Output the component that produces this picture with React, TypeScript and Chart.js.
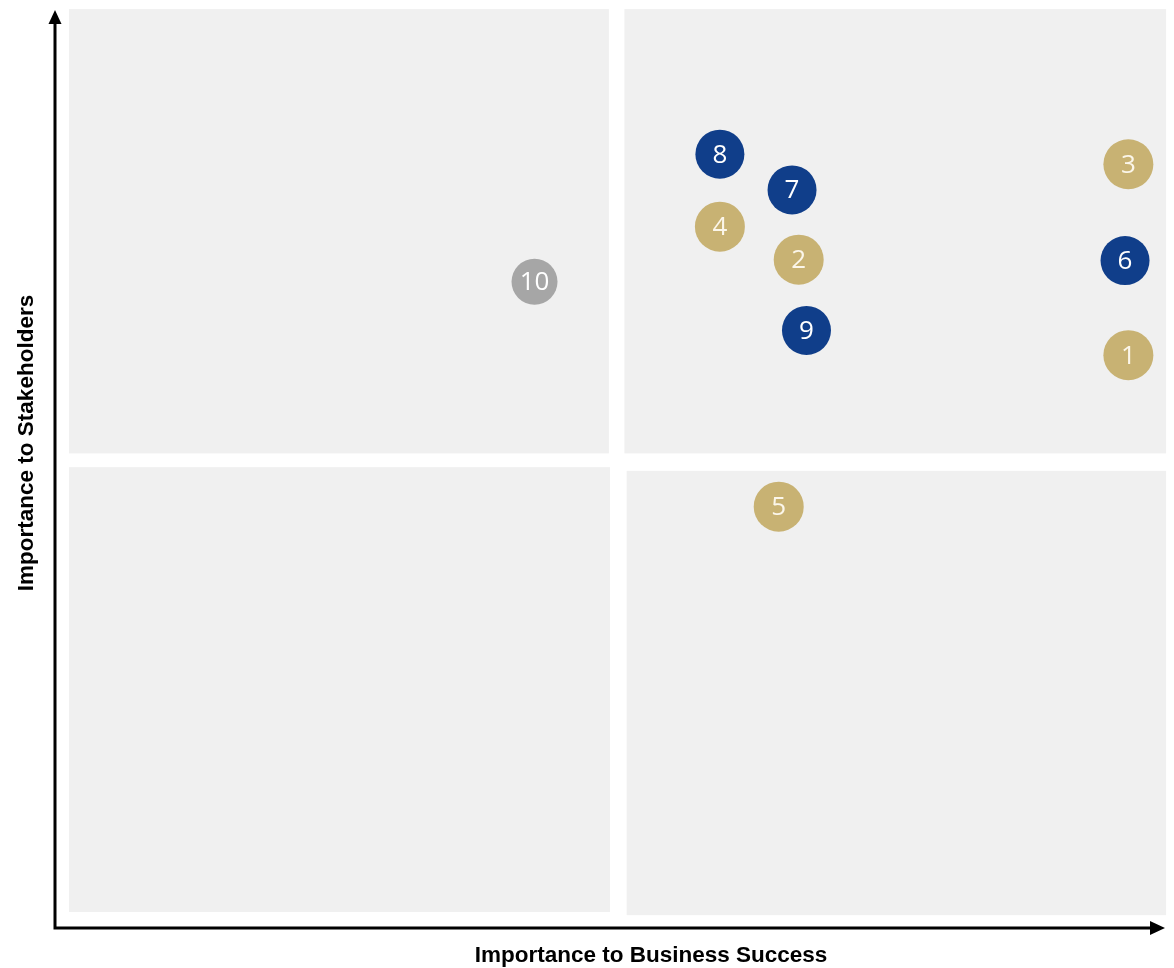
import React, { useEffect, useRef } from "react";
import { Chart, registerables } from "chart.js";

Chart.register(...registerables);

// ---- data ----
const goldLabels = ["1", "2", "3", "4", "5"];
const goldBusiness = [96.7, 67.0, 96.7, 59.9, 65.2];
const goldStakeholders = [62.4, 72.8, 83.2, 76.4, 45.9];

const blueLabels = ["6", "7", "8", "9"];
const blueBusiness = [96.4, 66.4, 59.9, 67.7];
const blueStakeholders = [72.7, 80.4, 84.3, 65.1];

const grayLabels = ["10"];
const grayBusiness = [43.2];
const grayStakeholders = [70.4];

const xTitle = "Importance to Business Success";
const yTitle = "Importance to Stakeholders";

// quadrant panels in data units [xMin, xMax, yMin, yMax]
const panelXMin = [1.26, 51.3, 1.26, 51.5];
const panelXMax = [49.9, 100.1, 50.0, 100.1];
const panelYMin = [51.7, 51.7, 1.74, 1.4];
const panelYMax = [100.1, 100.1, 50.2, 49.8];

const GOLD = "#C8B273";
const BLUE = "#103E8A";
const GRAY = "#A6A6A6";

function toPoints(xs: number[], ys: number[]) {
  return xs.map((x, i) => ({ x, y: ys[i] }));
}

const matrixPlugin = {
  id: "matrixDecor",
  beforeDatasetsDraw(chart: any) {
    const { ctx, scales } = chart;
    const xs = scales.x;
    const ys = scales.y;
    ctx.save();
    // panels
    ctx.fillStyle = "#F0F0F0";
    for (let i = 0; i < panelXMin.length; i++) {
      const l = xs.getPixelForValue(panelXMin[i]);
      const r = xs.getPixelForValue(panelXMax[i]);
      const t = ys.getPixelForValue(panelYMax[i]);
      const b = ys.getPixelForValue(panelYMin[i]);
      ctx.fillRect(l, t, r - l, b - t);
    }
    // axes with arrows
    const x0 = xs.getPixelForValue(0);
    const y0 = ys.getPixelForValue(0);
    const xEnd = xs.right;
    const yEnd = ys.top;
    ctx.strokeStyle = "#000";
    ctx.fillStyle = "#000";
    ctx.lineWidth = 3;
    ctx.beginPath();
    ctx.moveTo(x0, y0 + 1.5);
    ctx.lineTo(x0, yEnd + 12);
    ctx.moveTo(x0 - 1.5, y0);
    ctx.lineTo(xEnd - 12, y0);
    ctx.stroke();
    ctx.beginPath();
    ctx.moveTo(x0, yEnd);
    ctx.lineTo(x0 - 6.5, yEnd + 14);
    ctx.lineTo(x0 + 6.5, yEnd + 14);
    ctx.closePath();
    ctx.fill();
    ctx.beginPath();
    ctx.moveTo(xEnd, y0);
    ctx.lineTo(xEnd - 15, y0 - 7);
    ctx.lineTo(xEnd - 15, y0 + 7);
    ctx.closePath();
    ctx.fill();
    // titles
    ctx.font = "bold 22.5px 'Liberation Sans', Arial, sans-serif";
    ctx.textAlign = "center";
    ctx.textBaseline = "middle";
    ctx.fillText(xTitle, 651, 956);
    ctx.translate(27, 443);
    ctx.rotate(-Math.PI / 2);
    ctx.fillText(yTitle, 0, 0);
    ctx.restore();
  },
  afterDatasetsDraw(chart: any) {
    const { ctx } = chart;
    ctx.save();
    ctx.font = "26px 'Open Sans', 'Noto Sans', sans-serif";
    ctx.textAlign = "center";
    ctx.textBaseline = "middle";
    chart.data.datasets.forEach((ds: any, di: number) => {
      const meta = chart.getDatasetMeta(di);
      meta.data.forEach((pt: any, i: number) => {
        ctx.fillStyle = ds.labelColor;
        ctx.fillText(ds.pointLabels[i], pt.x, pt.y + 1);
      });
    });
    ctx.restore();
  },
};

export default function App() {
  const canvasRef = useRef<HTMLCanvasElement | null>(null);

  useEffect(() => {
    if (!canvasRef.current) return;
    const chart = new Chart(canvasRef.current, {
      type: "scatter",
      data: {
        datasets: [
          {
            label: "Environmental / governance",
            data: toPoints(goldBusiness, goldStakeholders),
            backgroundColor: GOLD,
            borderWidth: 0,
            pointRadius: 25,
            pointHoverRadius: 25,
            pointLabels: goldLabels,
            labelColor: "#FBF6EA",
          } as any,
          {
            label: "Social",
            data: toPoints(blueBusiness, blueStakeholders),
            backgroundColor: BLUE,
            borderWidth: 0,
            pointRadius: 24.5,
            pointHoverRadius: 24.5,
            pointLabels: blueLabels,
            labelColor: "#FFFFFF",
          } as any,
          {
            label: "Other",
            data: toPoints(grayBusiness, grayStakeholders),
            backgroundColor: GRAY,
            borderWidth: 0,
            pointRadius: 23,
            pointHoverRadius: 23,
            pointLabels: grayLabels,
            labelColor: "#FFFFFF",
          } as any,
        ],
      },
      options: {
        animation: false,
        responsive: true,
        maintainAspectRatio: false,
        layout: {
          autoPadding: false,
          padding: { left: 55, right: 9, top: 10, bottom: 40 },
        },
        plugins: {
          legend: { display: false },
          tooltip: { enabled: false },
        },
        scales: {
          x: { type: "linear", min: 0, max: 100, display: false },
          y: { type: "linear", min: 0, max: 100, display: false },
        },
      },
      plugins: [matrixPlugin],
    });
    return () => chart.destroy();
  }, []);

  return (
    <div
      style={{
        position: "absolute",
        left: 0,
        top: 0,
        width: 1174,
        height: 968,
        background: "#fff",
      }}
    >
      <canvas ref={canvasRef} />
    </div>
  );
}
